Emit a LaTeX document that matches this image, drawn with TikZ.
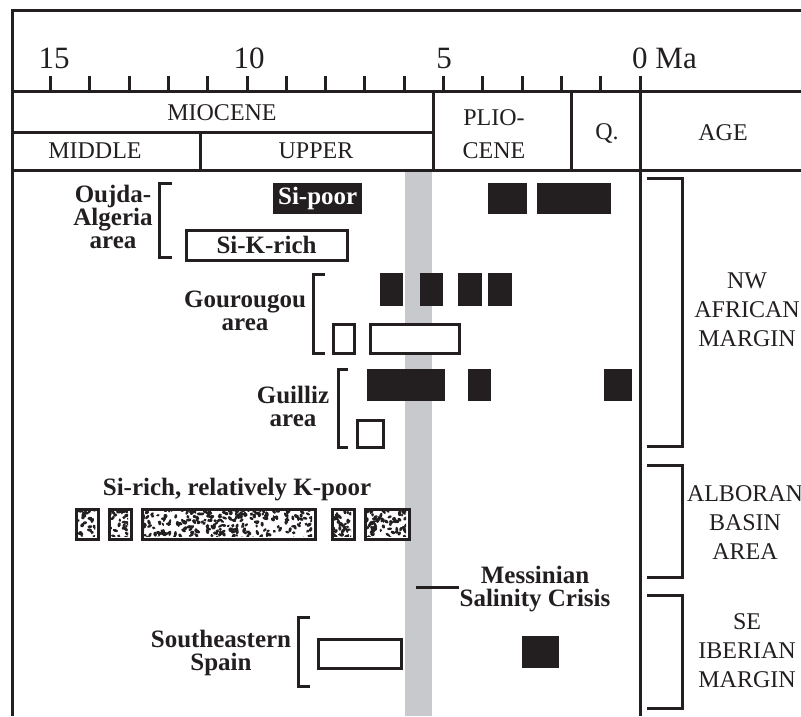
\documentclass[tikz,border=0pt]{standalone}
\usepackage{fontspec}
\setmainfont{Liberation Serif}
\definecolor{ink}{RGB}{35,31,32}
\definecolor{bandgray}{RGB}{200,201,204}
\tikzset{
 frame/.style={line width=3pt, draw=ink},
 solidbox/.style={fill=ink, draw=none, inner sep=0pt, anchor=north west},
 openbox/.style={fill=white, draw=ink, line width=3pt, inner sep=0pt, anchor=north west},
 hdr/.style={font=\fontsize{24}{33}\selectfont, text=ink, inner sep=0pt, align=center},
 axisnum/.style={font=\fontsize{31}{31}\selectfont, text=ink, inner sep=0pt},
 region/.style={font=\fontsize{24}{29}\selectfont, text=ink, inner sep=0pt, align=center},
 lbl/.style={font=\bfseries\fontsize{25}{23}\selectfont, text=ink, inner sep=0pt, align=center},
 brk/.style={line width=3pt, draw=ink},
}
\newcommand\solidrect[5]{\node[solidbox, minimum width={#4-#2}, minimum height={#5-#3}] (#1) at (#2,#3) {};}
\newcommand\openrect[5]{\node[openbox, minimum width={#4-#2-3}, minimum height={#5-#3-3}] (#1) at ({#2+1.5},{#3+1.5}) {};}
\newcommand\stipplerect[6]{%
 \openrect{#1}{#2}{#3}{#4}{#5}
 \begin{scope}
 \clip ({#2+3},{#3+3}) rectangle ({#4-3},{#5-3});
 \foreach \i in {1,...,#6}{%
  \pgfmathsetmacro\px{#2+rnd*(#4-#2)}%
  \pgfmathsetmacro\py{#3+rnd*(#5-#3)}%
  \pgfmathsetmacro\ra{1.6+1.2*rnd}%
  \pgfmathsetmacro\rb{1.1+0.7*rnd}%
  \pgfmathsetmacro\an{rnd*180}%
  \fill[ink, rotate around={\an:(\px,\py)}] (\px,\py) ellipse [x radius=\ra, y radius=\rb];}
 \end{scope}}
\begin{document}
\begin{tikzpicture}[x=1pt, y=-1pt]
\pgfmathsetseed{7}
\useasboundingbox (0,0) rectangle (801,716);
% gray band (Messinian)
\fill[bandgray] (405,171) rectangle (432,716);
% frame and header
\draw[frame, line join=miter] (12,716) -- (12,10) -- (801,10);
\draw[frame] (12,91) -- (801,91);
\draw[frame] (12,132) -- (433,132);
\draw[frame] (12,170) -- (801,170);
\draw[frame] (200,132) -- (200,170);
\draw[frame] (433,91) -- (433,170);
\draw[frame] (571,91) -- (571,170);
\draw[frame] (640,76) -- (640,716);
\foreach \t in {1,...,15} \draw[frame] ({640-39.29*\t},76) -- ++(0,15);
\node[axisnum, anchor=base] (n15) at (54,68) {15};
\node[axisnum, anchor=base] (n10) at (249,68) {10};
\node[axisnum, anchor=base] (n5) at (444,68) {5};
\node[axisnum, anchor=base west] (n0) at (632,68) {0 Ma};
\node[hdr] (mio) at (222,113) {MIOCENE};
\node[hdr] (mid) at (95,151) {MIDDLE};
\node[hdr] (upp) at (316,151) {UPPER};
\node[hdr] (pli) at (494,134) {PLIO-\\CENE};
\node[hdr] (q) at (607,133) {Q.};
\node[hdr] (age) at (723,133) {AGE};
% right-hand regions
\draw[brk] (647,178) -- (682,178) -- (682,446) -- (647,446);
\node[region] (nw) at (747,310) {NW\\AFRICAN\\MARGIN};
\draw[brk] (647,465) -- (682,465) -- (682,577) -- (647,577);
\node[region] (alb) at (745,523) {ALBORAN\\BASIN\\AREA};
\draw[brk] (647,595) -- (682,595) -- (682,708) -- (647,708);
\node[region] (se) at (747,651) {SE\\IBERIAN\\MARGIN};
% Oujda-Algeria
\node[lbl] (oujda) at (113,217) {Oujda-\\Algeria\\area};
\draw[brk] (172,183) -- (159,183) -- (159,257) -- (172,257);
\solidrect{sipoor}{273}{183}{362}{214}
\node[lbl, text=white] (sipoortxt) at (sipoor.center) {Si-poor};
\openrect{sikrich}{183}{227}{347}{260}
\node[lbl] (sikrichtxt) at (sikrich.center) {Si-K-rich};
\solidrect{oa1}{488}{183}{527}{214}
\solidrect{oa2}{537}{183}{611}{214}
% Gourougou
\node[lbl] (gour) at (245,311) {Gourougou\\area};
\draw[brk] (325,274) -- (313,274) -- (313,353) -- (325,353);
\solidrect{go1}{380}{273}{403}{306}
\solidrect{go2}{420}{273}{443}{306}
\solidrect{go3}{458}{273}{482}{306}
\solidrect{go4}{488}{273}{512}{306}
\openrect{go5}{330}{321}{354}{353}
\openrect{go6}{367}{321}{459}{353}
% Guilliz
\node[lbl] (guil) at (293,406) {Guilliz\\area};
\draw[brk] (348,369) -- (338,369) -- (338,447) -- (348,447);
\solidrect{gu1}{367}{369}{445}{401}
\solidrect{gu2}{468}{369}{491}{401}
\solidrect{gu3}{604}{369}{632}{401}
\openrect{gu4}{354}{417}{383}{447}
% Si-rich, relatively K-poor
\node[lbl, anchor=base] (sirich) at (237,495) {Si-rich, relatively K-poor};
\stipplerect{st1}{73}{506}{98}{539}{45}
\stipplerect{st2}{106}{506}{131}{539}{45}
\stipplerect{st3}{139}{506}{315}{539}{300}
\stipplerect{st4}{329}{506}{354}{539}{45}
\stipplerect{st5}{362}{506}{409}{539}{85}
% Messinian
\node[lbl] (mess) at (535,589) {Messinian\\Salinity Crisis};
\coordinate (messband) at (416,587);
\draw[brk] (messband) -- (459,587);
% Southeastern Spain
\node[lbl] (sesp) at (221,653) {Southeastern\\Spain};
\draw[brk] (310,617) -- (298,617) -- (298,686) -- (310,686);
\openrect{sp1}{315}{636}{401}{668}
\solidrect{sp2}{522}{636}{559}{668}
\end{tikzpicture}
\end{document}
